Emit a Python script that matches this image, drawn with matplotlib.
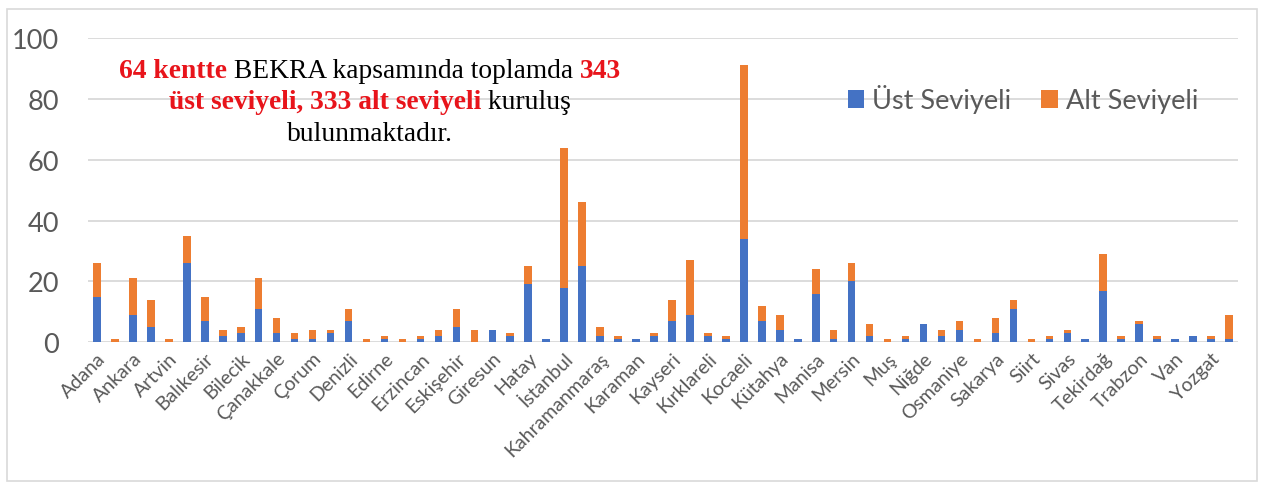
import matplotlib
matplotlib.use("Agg")
import matplotlib.pyplot as plt
import numpy as np
from matplotlib.patches import Rectangle

# 64 kent, sadece tek sıradakiler eksende yazılı
cities = ["Adana", "Afyonkarahisar", "Ankara", "Antalya", "Artvin", "Aydın",
          "Balıkesir", "Bartın", "Bilecik", "Bursa", "Çanakkale", "Çankırı",
          "Çorum", "Diyarbakır", "Denizli", "Düzce", "Edirne", "Elazığ",
          "Erzincan", "Erzurum", "Eskişehir", "Gaziantep", "Giresun", "Gümüşhane",
          "Hatay", "Isparta", "İstanbul", "İzmir", "Kahramanmaraş", "Karabük",
          "Karaman", "Kastamonu", "Kayseri", "Kırıkkale", "Kırklareli", "Kırşehir",
          "Kocaeli", "Konya", "Kütahya", "Malatya", "Manisa", "Mardin",
          "Mersin", "Muğla", "Muş", "Nevşehir", "Niğde", "Ordu",
          "Osmaniye", "Rize", "Sakarya", "Samsun", "Siirt", "Sinop",
          "Sivas", "Şanlıurfa", "Tekirdağ", "Tokat", "Trabzon", "Uşak",
          "Van", "Yalova", "Yozgat", "Zonguldak"]
ust = [15, 0, 9, 5, 0, 26, 7, 2, 3, 11, 3, 1, 1, 3, 7, 0,
       1, 0, 1, 2, 5, 0, 4, 2, 19, 1, 18, 25, 2, 1, 1, 2,
       7, 9, 2, 1, 34, 7, 4, 1, 16, 1, 20, 2, 0, 1, 6, 2,
       4, 0, 3, 11, 0, 1, 3, 1, 17, 1, 6, 1, 1, 2, 1, 1]
alt = [11, 1, 12, 9, 1, 9, 8, 2, 2, 10, 5, 2, 3, 1, 4, 1,
       1, 1, 1, 2, 6, 4, 0, 1, 6, 0, 46, 21, 3, 1, 0, 1,
       7, 18, 1, 1, 57, 5, 5, 0, 8, 3, 6, 4, 1, 1, 0, 2,
       3, 1, 5, 3, 1, 1, 1, 0, 12, 1, 1, 1, 0, 0, 1, 8]
yticks = [0, 20, 40, 60, 80, 100]

W, H = 1264, 489
fig = plt.figure(figsize=(W / 100, H / 100), dpi=100)
fig.patches.append(Rectangle((7 / W, 7 / H), 1250 / W, 472 / H, transform=fig.transFigure,
                             fill=False, edgecolor='#d9d9d9', linewidth=1.2))

ax = fig.add_axes([88 / W, (H - 343.3) / H, (1238 - 88) / W, (343.3 - 39) / H])
x = np.arange(len(cities))
ax.bar(x, ust, width=0.42, color='#4472C4', label='Üst Seviyeli', zorder=3)
ax.bar(x, alt, width=0.42, bottom=ust, color='#ED7D31', label='Alt Seviyeli', zorder=3)

ax.set_xlim(-0.5, len(cities) - 0.5)
ax.set_ylim(0, 100)
ax.set_yticks(yticks)
ax.set_xticks(x[::2])
ax.set_xticklabels(cities[::2], rotation=45, ha='right', rotation_mode='anchor',
                   fontsize=14, color='#595959', family='Lato')
for lab in ax.get_yticklabels():
    lab.set_family('Lato')
ax.tick_params(axis='y', length=0, pad=21, labelsize=19.5, labelcolor='#595959')
ax.tick_params(axis='x', length=0, pad=5)
ax.grid(axis='y', color='#d9d9d9', linewidth=1.3, zorder=0)
for s in ax.spines.values():
    s.set_visible(False)

fig.legend(loc='center left', bbox_to_anchor=(848 / W, 1 - 100 / H), ncol=2, frameon=False,
           prop={'family': 'Lato', 'size': 19.5}, labelcolor='#595959',
           handlelength=0.6, handleheight=0.6, handletextpad=0.3,
           columnspacing=1.1, borderpad=0, borderaxespad=0)

# kırmızı/siyah karışık açıklama metni
red = '#e8141b'
lines = [
    ([("64 kentte", red, 'bold'), (" BEKRA kapsamında toplamda ", 'black', 'normal'),
      ("343", red, 'bold')], 78),
    ([("üst seviyeli, 333 alt seviyeli", red, 'bold'), (" kuruluş", 'black', 'normal')], 109),
    ([("bulunmaktadır.", 'black', 'normal')], 141),
]
fig.canvas.draw()
r = fig.canvas.get_renderer()
for parts, ypix in lines:
    texts = []
    for s, c, wgt in parts:
        t = fig.text(0, 1 - ypix / H, s, color=c, fontweight=wgt, family='Liberation Serif',
                     fontsize=19.8, va='baseline', ha='left')
        texts.append(t)
    widths = [t.get_window_extent(r).width for t in texts]
    left = 370 - sum(widths) / 2
    for t, w in zip(texts, widths):
        t.set_x(left / W)
        left += w

fig.savefig('out.png', dpi=100)
